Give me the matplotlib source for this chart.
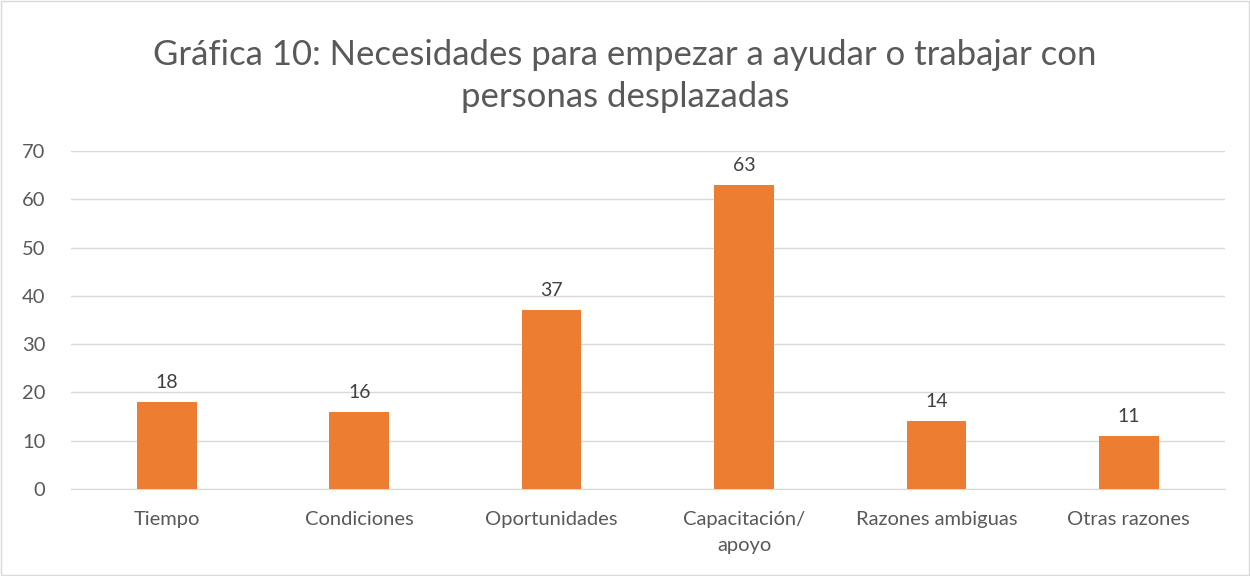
import matplotlib.pyplot as plt
from matplotlib.patches import Rectangle

categories = ["Tiempo", "Condiciones", "Oportunidades", "Capacitación/\napoyo",
              "Razones ambiguas", "Otras razones"]
values = [18, 16, 37, 63, 14, 11]
title = "Gráfica 10: Necesidades para empezar a ayudar o trabajar con\npersonas desplazadas"

plt.rcParams['font.family'] = ['Lato', 'DejaVu Sans']

fig = plt.figure(figsize=(12.5, 5.76), dpi=100)
ax = fig.add_axes([0.0565, 0.151, 0.9235, 0.587])

x = range(len(categories))
bars = ax.bar(x, values, width=0.31, color="#ED7D31", zorder=3)
for b, v in zip(bars, values):
    ax.text(b.get_x() + b.get_width() / 2, v + 2.3, str(v), ha="center", va="bottom",
            fontsize=14, color="#404040")

ax.set_xlim(-0.5, len(categories) - 0.5)
ax.set_ylim(0, 70)
ax.set_yticks(range(0, 71, 10))
ax.set_xticks(list(x))
ax.set_xticklabels(categories, fontsize=14.5, color="#595959", linespacing=1.6)
ax.tick_params(axis="y", labelsize=14.5, labelcolor="#595959", length=0, pad=18)
ax.tick_params(axis="x", length=0, pad=16)
ax.grid(axis="y", color="#D9D9D9", linewidth=1, zorder=0)
for s in ["top", "right", "left"]:
    ax.spines[s].set_visible(False)
ax.spines["bottom"].set_color("#D9D9D9")

fig.text(0.5, 0.933, title, ha="center", va="top", fontsize=25, color="#595959",
         linespacing=1.4)

fig.patches.append(Rectangle((0.001, 0.001), 0.998, 0.997, transform=fig.transFigure,
                             fill=False, edgecolor="#D9D9D9", linewidth=1))

fig.savefig("out.png", dpi=100)
